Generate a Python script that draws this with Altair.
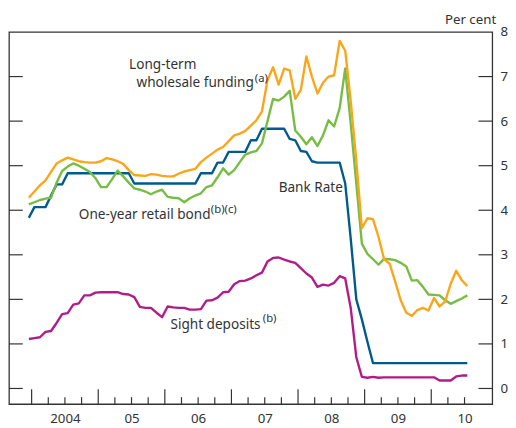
import altair as alt
import pandas as pd

# ---- data (monthly, Dec 2003 - Jul 2010), per cent ----
months = [str(p) for p in pd.period_range("2003-12", periods=80, freq="M")]

bank_rate = [
    3.83, 4.07, 4.07, 4.07, 4.33, 4.58, 4.58, 4.83, 4.83, 4.83,
    4.83, 4.83, 4.83, 4.83, 4.83, 4.83, 4.83, 4.83, 4.83, 4.60,
    4.60, 4.60, 4.60, 4.60, 4.60, 4.60, 4.60, 4.60, 4.60, 4.60,
    4.60, 4.83, 4.83, 4.83, 5.07, 5.07, 5.31, 5.31, 5.31, 5.31,
    5.57, 5.57, 5.83, 5.83, 5.83, 5.83, 5.83, 5.60, 5.57, 5.33,
    5.31, 5.10, 5.07, 5.07, 5.07, 5.07, 5.07, 4.60, 3.35, 2.00,
    1.55, 1.05, 0.57, 0.57, 0.57, 0.57, 0.57, 0.57, 0.57, 0.57,
    0.57, 0.57, 0.57, 0.57, 0.57, 0.57, 0.57, 0.57, 0.57, 0.57]

wholesale = [
    4.28, 4.42, 4.56, 4.67, 4.86, 5.05, 5.12, 5.18, 5.14, 5.10,
    5.08, 5.07, 5.07, 5.10, 5.17, 5.14, 5.10, 5.04, 4.90, 4.79,
    4.78, 4.77, 4.81, 4.80, 4.77, 4.76, 4.76, 4.82, 4.87, 4.90,
    4.93, 5.08, 5.18, 5.27, 5.36, 5.42, 5.55, 5.68, 5.72, 5.78,
    5.90, 6.02, 6.22, 6.92, 7.21, 6.82, 7.18, 7.14, 6.50, 6.70,
    7.45, 7.00, 6.62, 6.86, 7.00, 7.03, 7.80, 7.58, 6.44, 5.10,
    3.60, 3.82, 3.80, 3.40, 2.90, 2.80, 2.40, 1.98, 1.70, 1.63,
    1.76, 1.81, 1.75, 2.03, 1.84, 1.95, 2.35, 2.64, 2.43, 2.30]

retail_bond = [
    4.13, 4.18, 4.23, 4.26, 4.28, 4.62, 4.88, 4.98, 5.05, 5.00,
    4.93, 4.86, 4.72, 4.52, 4.52, 4.70, 4.89, 4.76, 4.62, 4.49,
    4.46, 4.42, 4.36, 4.42, 4.46, 4.30, 4.28, 4.27, 4.18, 4.27,
    4.33, 4.38, 4.52, 4.56, 4.74, 4.94, 4.80, 4.90, 5.08, 5.25,
    5.30, 5.33, 5.50, 6.00, 6.50, 6.46, 6.55, 6.68, 5.79, 5.65,
    5.48, 5.64, 5.44, 5.68, 6.02, 5.88, 6.29, 7.18, 5.93, 4.60,
    3.25, 3.02, 2.90, 2.78, 2.91, 2.90, 2.88, 2.82, 2.74, 2.42,
    2.43, 2.28, 2.11, 2.10, 2.09, 1.98, 1.90, 1.96, 2.02, 2.09]

sight = [
    1.11, 1.13, 1.15, 1.27, 1.29, 1.47, 1.67, 1.69, 1.88, 1.91,
    2.09, 2.09, 2.15, 2.16, 2.16, 2.16, 2.16, 2.12, 2.11, 2.05,
    1.83, 1.81, 1.81, 1.70, 1.60, 1.84, 1.82, 1.81, 1.81, 1.77,
    1.77, 1.78, 1.97, 1.98, 2.04, 2.16, 2.17, 2.34, 2.41, 2.42,
    2.47, 2.54, 2.60, 2.85, 2.93, 2.94, 2.89, 2.85, 2.82, 2.70,
    2.58, 2.49, 2.28, 2.33, 2.31, 2.37, 2.52, 2.47, 1.80, 0.70,
    0.26, 0.24, 0.26, 0.24, 0.25, 0.25, 0.25, 0.25, 0.25, 0.25,
    0.25, 0.25, 0.25, 0.25, 0.18, 0.18, 0.18, 0.27, 0.29, 0.29]

x_tick_labels = ["2004", "05", "06", "07", "08", "09", "10"]
y_tick_values = [0, 1, 2, 3, 4, 5, 6, 7, 8]
major_ticks = [2004, 2005, 2006, 2007, 2008, 2009, 2010]
minor_ticks = [y + q for y in range(2004, 2011) for q in (0.25, 0.5, 0.75) if y + q <= 2010.5]
inner_y_ticks = [0, 1, 2, 3, 4, 5, 6, 7]

labels = pd.DataFrame({
    "text": ["Long-term", "wholesale funding", "(a)", "Bank Rate",
             "One-year retail bond", "(b)(c)", "Sight deposits", "(b)"],
    "x": [2005.463, 2005.574, 2007.350, 2007.709, 2004.709, 2006.690, 2006.084, 2007.470],
    "y": [7.161, 6.763, 6.873, 4.399, 3.803, 3.935, 1.329, 1.484],
    "size": [13.8, 13.8, 11.5, 13.8, 13.8, 11.5, 13.8, 11.5],
})

# ---- chart ----
W, H = 491, 378
FONT = "Noto Sans"
TXT = "#333333"
AX = "#333333"


def decimal_year(m):
    y, mo = m.split("-")
    return int(y) + (int(mo) - 0.5) / 12


xs = [decimal_year(m) for m in months]

xscale = alt.Scale(domain=[2003.66, 2010.916], nice=False, zero=False)
yscale = alt.Scale(domain=[-0.35, 8], nice=False, zero=False)

label_expr = "[" + ",".join(f"'{t}'" for t in x_tick_labels) + "][floor(datum.value) - 2004]"

xaxis = alt.Axis(values=[y + 0.5 for y in major_ticks], labelExpr=label_expr, title=None,
                 ticks=False, domain=False, grid=False, labelFont=FONT, labelFontSize=13.5,
                 labelColor=TXT, labelPadding=8)
yaxis = alt.Axis(values=y_tick_values, orient="right", title=None, ticks=False, domain=False,
                 grid=False, labelFont=FONT, labelFontSize=13.5, labelColor=TXT, labelPadding=8,
                 labelAlign="left")


def X(field):
    return alt.X(field, scale=xscale, axis=xaxis)


def Y(field):
    return alt.Y(field, scale=yscale, axis=yaxis)


def line(values, color):
    df = pd.DataFrame({"x": xs, "v": values})
    return alt.Chart(df).mark_line(color=color, strokeWidth=2.4, strokeJoin="round").encode(
        x=X("x:Q"), y=Y("v:Q"))


blue = line(bank_rate, "#005A8C")
green = line(retail_bond, "#77BC43")
orange = line(wholesale, "#FAA61A")
pink = line(sight, "#B01C88")

maj = alt.Chart(pd.DataFrame({"t": major_ticks})).mark_rule(color=AX, strokeWidth=1.2).encode(
    x=X("t:Q"), y=alt.value(H), y2=alt.value(H - 15))
mnr = alt.Chart(pd.DataFrame({"t": minor_ticks})).mark_rule(color=AX, strokeWidth=1.2).encode(
    x=X("t:Q"), y=alt.value(H), y2=alt.value(H - 7))
lt = alt.Chart(pd.DataFrame({"v": inner_y_ticks})).mark_rule(color=AX, strokeWidth=1.2).encode(
    y=Y("v:Q"), x=alt.value(0), x2=alt.value(14))
rt = alt.Chart(pd.DataFrame({"v": inner_y_ticks})).mark_rule(color=AX, strokeWidth=1.2).encode(
    y=Y("v:Q"), x=alt.value(W - 14), x2=alt.value(W))

txt = alt.Chart(labels).mark_text(font=FONT, color=TXT, align="left", baseline="alphabetic").encode(
    x=X("x:Q"),
    y=Y("y:Q"),
    text="text:N",
    size=alt.Size("size:Q", scale=None, legend=None))

unit = alt.Chart(pd.DataFrame({"u": ["Per cent"]})).mark_text(
    font=FONT, color=TXT, fontSize=13.5, align="right", baseline="alphabetic").encode(
    text="u:N", x=alt.value(W + 4), y=alt.value(-8))

chart = alt.layer(blue, green, orange, pink, maj, mnr, lt, rt, txt, unit).properties(
    width=W, height=H,
    autosize=alt.AutoSizeParams(type="none"),
    padding={"left": 1, "top": 21, "right": 16, "bottom": 26},
).configure(background="white").configure_view(stroke=AX, strokeWidth=1.3)

chart.save("out.html", embed_options={"renderer": "svg", "actions": False})
